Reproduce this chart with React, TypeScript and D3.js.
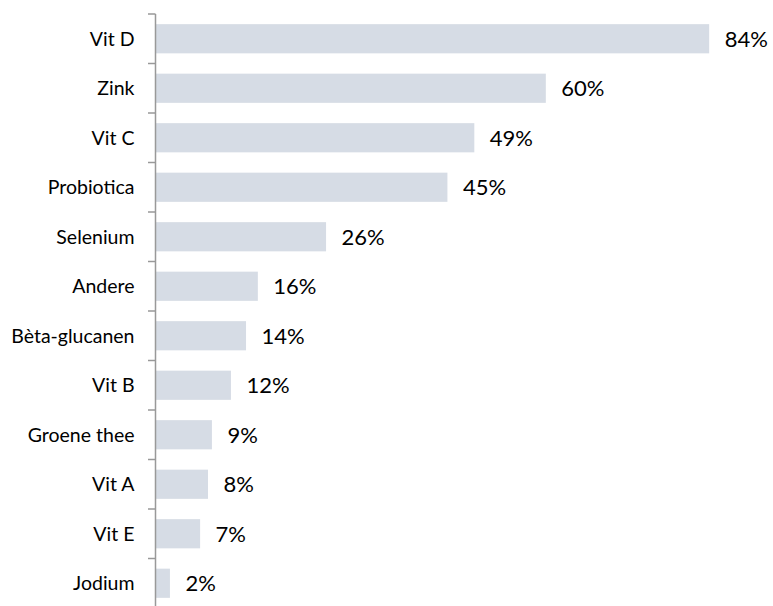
import React from "react";
import * as d3 from "d3";

const categories = ["Vit D", "Zink", "Vit C", "Probiotica", "Selenium", "Andere", "Bèta-glucanen", "Vit B", "Groene thee", "Vit A", "Vit E", "Jodium"];
const values = [84.4, 59.5, 48.6, 44.5, 26.0, 15.6, 13.8, 11.5, 8.6, 8.0, 6.8, 2.2];

const W = 773;
const H = 606;
const axisX = 155.5;

export default function App() {
  const x = d3.scaleLinear().domain([0, 100]).range([axisX, axisX + 656]);
  const y = d3.scaleBand<string>().domain(categories).range([14, 608]).paddingInner(0.41).paddingOuter(0.205);
  const step = y.step();
  const y0 = 14;
  return (
    <svg width={W} height={H} style={{ position: "absolute", left: 0, top: 0, background: "#fff" }} fontFamily="Lato, 'Noto Sans', sans-serif">
      {categories.map((c, i) => (
        <g key={c}>
          <rect x={axisX + 0.5} y={y(c)!} width={x(values[i]) - axisX - 0.5} height={y.bandwidth()} fill="#d6dce5" />
          <text x={x(values[i]) + 15.5} y={y(c)! + y.bandwidth() / 2} dy="0.36em" fontSize={22} fill="#000">
            {Math.round(values[i])}%
          </text>
          <text x={134.5} y={y(c)! + y.bandwidth() / 2} dy="0.36em" fontSize={19.5} textAnchor="end" fill="#000">
            {c}
          </text>
        </g>
      ))}
      {d3.range(categories.length + 1).map((i) => (
        <line key={i} x1={148} x2={axisX} y1={y0 + i * step} y2={y0 + i * step} stroke="#999" strokeWidth={1.5} />
      ))}
      <line x1={axisX} x2={axisX} y1={y0} y2={H} stroke="#999" strokeWidth={1.5} />
    </svg>
  );
}
